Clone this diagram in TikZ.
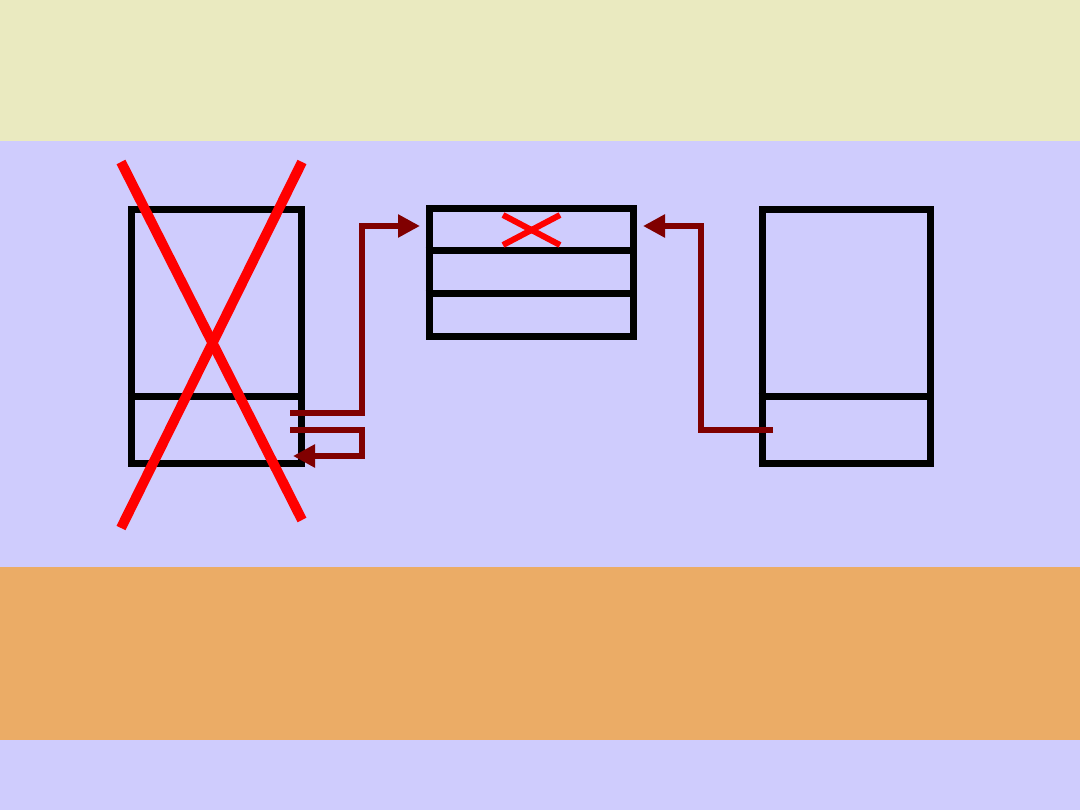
\documentclass[tikz,border=0pt]{standalone}
\usetikzlibrary{arrows.meta}
\definecolor{bandyellow}{HTML}{EAEAC0}
\definecolor{bandlilac}{HTML}{CFCCFD}
\definecolor{bandorange}{HTML}{EBAC66}
\definecolor{linkred}{HTML}{800000}
\tikzset{
  frame/.style={draw=black, line width=7pt, minimum width=#1},
  link/.style={draw=linkred, line width=6pt, -{Triangle[length=22pt,width=22pt]}},
  cross/.style={draw=red, line width=10pt},
}
\begin{document}
\begin{tikzpicture}[x=1pt, y=-1pt]
    \useasboundingbox (0,0) rectangle (1080,810);
    % bands:
    \fill[bandyellow] (0,0) rectangle (1080,141);
    \fill[bandlilac] (0,141) rectangle (1080,567);
    \fill[bandorange] (0,567) rectangle (1080,740);
    \fill[bandlilac] (0,740) rectangle (1080,810);
    % boxes:
    \node[frame=170pt, minimum height=254pt] (old) at (216,337) {};
    \node[frame=204pt, minimum height=128pt] (table) at (531,273) {};
    \node[frame=168pt, minimum height=254pt] (new) at (846,337) {};
    \draw[line width=7pt] (old.west |- 0,397) -- (old.east |- 0,397);
    \draw[line width=7pt] (new.west |- 0,397) -- (new.east |- 0,397);
    \draw[line width=7pt] (table.west |- 0,251) -- (table.east |- 0,251);
    \draw[line width=7pt] (table.west |- 0,294) -- (table.east |- 0,294);
    % points:
    \coordinate (oldout) at (290,413);
    \coordinate (oldin) at (290,430);
    \coordinate (oldback) at (293,456);
    \coordinate (newout) at (773,430);
    % links:
    \draw[link] (oldout) -| (362,226) -- (420,226);
    \draw[link] (oldin) -| (362,456) -- (oldback);
    \draw[link] (newout) -| (701,226) -- (643,226);
    % crosses:
    \draw[cross] (121,162) -- (302,520);
    \draw[cross] (302,162) -- (121,528);
    \draw[cross, line width=6pt] (503,215) -- (560,245);
    \draw[cross, line width=6pt] (503,245) -- (560,215);
\end{tikzpicture}
\end{document}
